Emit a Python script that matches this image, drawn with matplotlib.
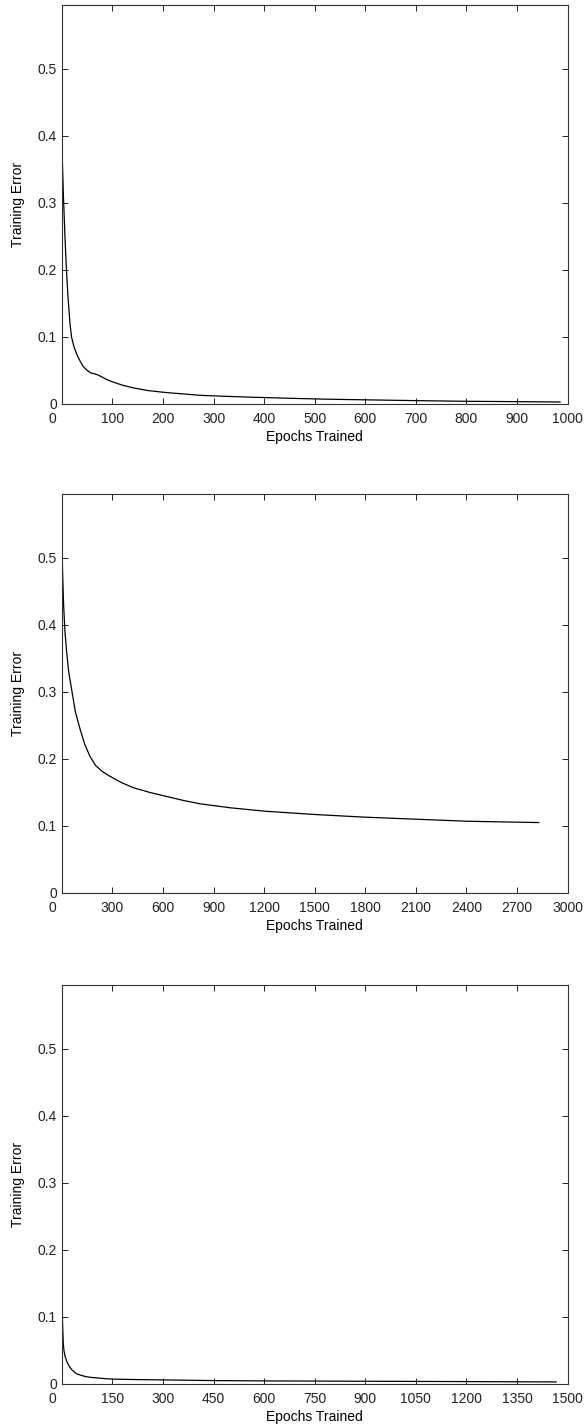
import matplotlib.pyplot as plt
import matplotlib.transforms as mtransforms

plt.rcParams['font.family'] = ['Liberation Sans', 'DejaVu Sans']

# Run 1 (0-1000 epochs)
epochs1 = [1, 3, 6, 9, 12, 16, 19, 24, 30, 36, 42, 50, 58, 65, 72, 80, 90, 100, 120, 141, 170, 207, 240, 272, 320, 380, 450, 520, 600, 700, 800, 900, 985]
error1 = [0.36, 0.31, 0.25, 0.20, 0.16, 0.12, 0.10, 0.085, 0.073, 0.064, 0.056, 0.050, 0.046, 0.045, 0.043, 0.040, 0.036, 0.033, 0.028, 0.024, 0.020, 0.017, 0.015, 0.013, 0.0115, 0.010, 0.0085, 0.0072, 0.0062, 0.005, 0.004, 0.0035, 0.003]

# Run 2 (0-3000 epochs)
epochs2 = [1, 5, 10, 18, 28, 40, 60, 80, 107, 135, 166, 200, 240, 285, 350, 423, 520, 620, 720, 818, 1000, 1200, 1500, 1800, 2100, 2400, 2600, 2828]
error2 = [0.51, 0.47, 0.43, 0.39, 0.36, 0.33, 0.30, 0.27, 0.245, 0.222, 0.204, 0.190, 0.181, 0.174, 0.165, 0.157, 0.150, 0.144, 0.138, 0.133, 0.127, 0.122, 0.117, 0.113, 0.110, 0.107, 0.106, 0.105]

# Run 3 (0-1500 epochs)
epochs3 = [1, 2, 4, 6, 9, 14, 20, 28, 36, 44, 56, 70, 85, 103, 125, 150, 220, 300, 450, 600, 900, 1200, 1466]
error3 = [0.12, 0.09, 0.061, 0.05, 0.042, 0.034, 0.028, 0.022, 0.018, 0.015, 0.013, 0.011, 0.0098, 0.009, 0.008, 0.0072, 0.0065, 0.006, 0.005, 0.0045, 0.004, 0.0035, 0.003]

runs = [
    (epochs1, error1, 1000, list(range(0, 1001, 100))),
    (epochs2, error2, 3000, list(range(0, 3001, 300))),
    (epochs3, error3, 1500, list(range(0, 1501, 150))),
]
bottoms = [0.7167, 0.3738, 0.0295]

fig = plt.figure(figsize=(5.84, 14.26), dpi=100)

for (ep, err, xmax, xt), b in zip(runs, bottoms):
    ax = fig.add_axes([0.106, b, 0.866, 0.2798])
    ax.plot(ep, err, color='black', linewidth=0.9)
    ax.set_xlim(0, xmax)
    ax.set_ylim(0, 0.595)
    ax.set_xticks(xt)
    ax.set_yticks([0, 0.1, 0.2, 0.3, 0.4, 0.5])
    ax.set_yticklabels(['0', '0.1', '0.2', '0.3', '0.4', '0.5'])
    ax.tick_params(direction='in', top=True, right=True, length=4, width=0.7,
                   labelsize=10, colors='#222222')
    ax.tick_params(axis='x', pad=5.5)
    ax.tick_params(axis='y', pad=3.5)
    for s in ax.spines.values():
        s.set_linewidth(0.8)
        s.set_color('#333333')
    ax.set_xlabel('Epochs Trained', fontsize=10, labelpad=3.5)
    ax.set_ylabel('Training Error', fontsize=10, labelpad=2)
    ax.yaxis.set_label_coords(-0.073, 0.5)
    # nudge the x "0" label left like MATLAB does
    lbl = ax.get_xticklabels()[0]
    lbl.set_transform(lbl.get_transform() + mtransforms.ScaledTranslation(-0.1, 0, fig.dpi_scale_trans))

plt.savefig('out.png', dpi=100)
print("Created out.png")
